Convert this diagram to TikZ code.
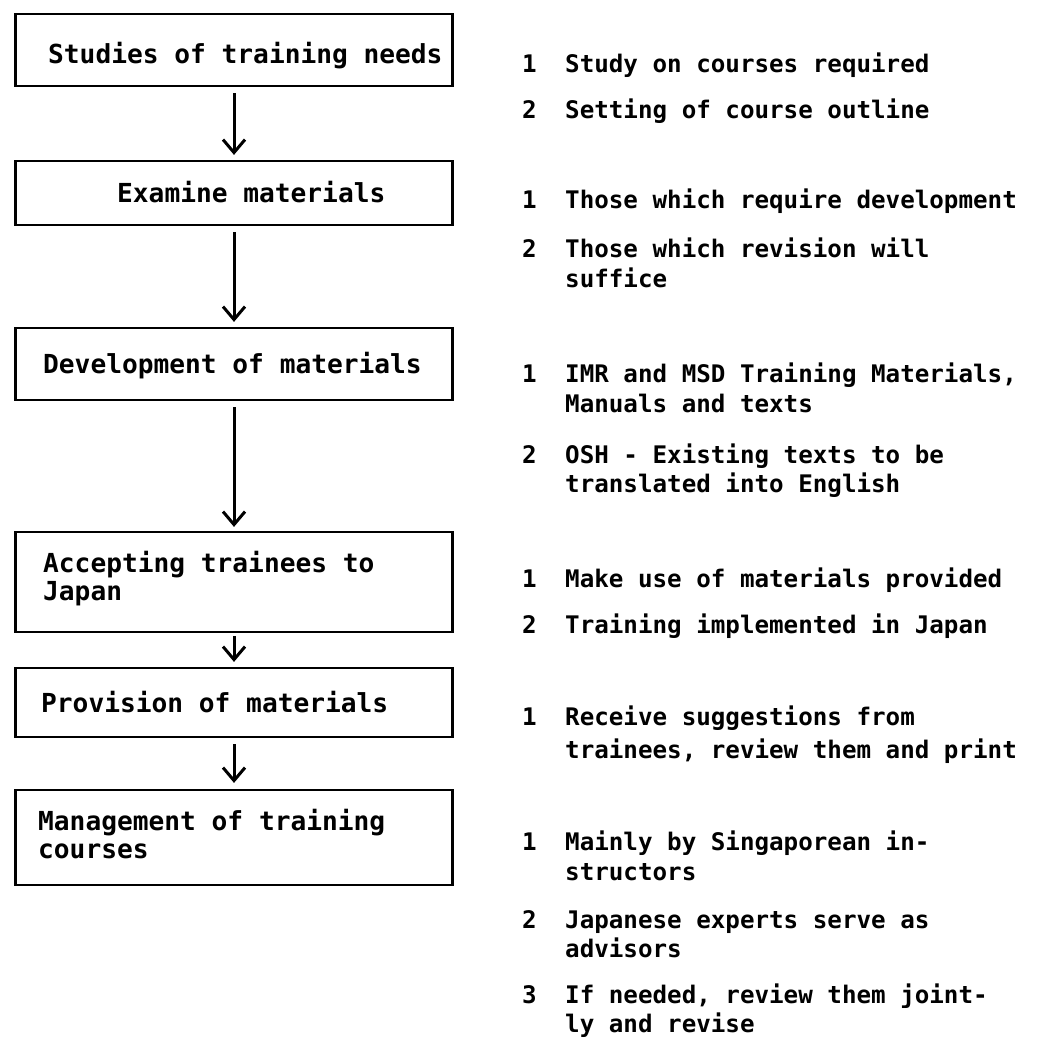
\documentclass[tikz,border=0pt]{standalone}
\usepackage{fontspec}
\setmonofont{DejaVu Sans Mono}
\usetikzlibrary{arrows.meta}

\begin{document}
\begin{tikzpicture}[x=1pt, y=-1pt, >={Straight Barb[length=13pt,width=22pt]},
  stage/.style={draw, rectangle, line width=2.2pt, minimum width=437pt},
  stagetext/.style={anchor=base west, inner sep=0pt, align=left, font=\ttfamily\bfseries\fontsize{26.2}{27.5}\selectfont},
  note/.style={anchor=base west, inner sep=0pt, font=\ttfamily\bfseries\fontsize{24.2}{30}\selectfont}]
\useasboundingbox (0,0) rectangle (1063,1039);

\node[stage, minimum height=72pt] (b1) at (234,50) {};
\node[stage, minimum height=64pt] (b2) at (234,193) {};
\node[stage, minimum height=72pt] (b3) at (234,364) {};
\node[stage, minimum height=100pt] (b4) at (234,582) {};
\node[stage, minimum height=69pt] (b5) at (234,702.5) {};
\node[stage, minimum height=95pt] (b6) at (234,837.5) {};

% base of a two-line label is its last line
\node[stagetext] (l1) at (48,63) {Studies of training needs};
\node[stagetext] (l2) at (117,202) {Examine materials};
\node[stagetext] (l3) at (43,373) {Development of materials};
\node[stagetext] (l4) at (43,600) {Accepting trainees to\\Japan};
\node[stagetext] (l5) at (41,712) {Provision of materials};
\node[stagetext] (l6) at (38,858) {Management of training\\courses};

\draw[->, line width=3pt, shorten <=6pt, shorten >=5pt] (b1) -- (b2);
\draw[->, line width=3pt, shorten <=6pt, shorten >=5pt] (b2) -- (b3);
\draw[->, line width=3pt, shorten <=6pt, shorten >=4pt] (b3) -- (b4);
\draw[->, line width=3pt, shorten <=3pt, shorten >=5pt] (b4) -- (b5);
\draw[->, line width=3pt, shorten <=6pt, shorten >=6pt] (b5) -- (b6);

% studies of training needs
\node[note] (n11) at (522,72) {1};
\node[note] (t11) at (565,72) {Study on courses required};
\node[note] (n12) at (522,118) {2};
\node[note] (t12) at (565,118) {Setting of course outline};

% examine materials
\node[note] (n21) at (522,208) {1};
\node[note] (t21) at (565,208) {Those which require development};
\node[note] (n22) at (522,257) {2};
\node[note] (t22) at (565,257) {Those which revision will};
\node[note] (t22b) at (565,287) {suffice};

% development of materials
\node[note] (n31) at (522,382) {1};
\node[note] (t31) at (565,382) {IMR and MSD Training Materials,};
\node[note] (t31b) at (565,412) {Manuals and texts};
\node[note] (n32) at (522,463) {2};
\node[note] (t32) at (565,463) {OSH - Existing texts to be};
\node[note] (t32b) at (565,492) {translated into English};

% accepting trainees
\node[note] (n41) at (522,587) {1};
\node[note] (t41) at (565,587) {Make use of materials provided};
\node[note] (n42) at (522,633) {2};
\node[note] (t42) at (565,633) {Training implemented in Japan};

% provision of materials
\node[note] (n51) at (522,725) {1};
\node[note] (t51) at (565,725) {Receive suggestions from};
\node[note] (t51b) at (565,758) {trainees, review them and print};

% management of courses
\node[note] (n61) at (522,850) {1};
\node[note] (t61) at (565,850) {Mainly by Singaporean in-};
\node[note] (t61b) at (565,880) {structors};
\node[note] (n62) at (522,928) {2};
\node[note] (t62) at (565,928) {Japanese experts serve as};
\node[note] (t62b) at (565,957) {advisors};
\node[note] (n63) at (522,1003) {3};
\node[note] (t63) at (565,1003) {If needed, review them joint-};
\node[note] (t63b) at (565,1032) {ly and revise};
\end{tikzpicture}
\end{document}
